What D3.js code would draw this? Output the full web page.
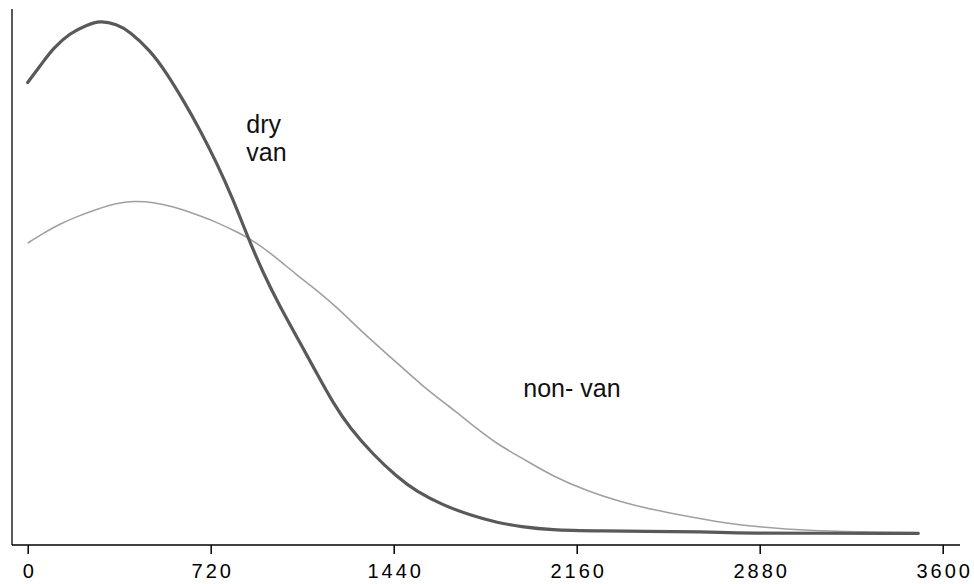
<!DOCTYPE html>
<html>
<head>
<meta charset="utf-8">
<script src="https://cdn.jsdelivr.net/npm/d3@7"></script>
<style>
  body { margin: 0; background: #fff; }
  svg { display: block; font-family: "Liberation Sans", Arial, sans-serif; }
</style>
</head>
<body>
<div id="chart"></div>
<script>
// values (x = time, y = relative height)
const dryVanX = [0, 61, 101, 166, 232, 284, 350, 402, 481, 547, 612, 678, 744, 809, 868, 927, 986, 1065, 1137, 1202, 1268, 1360, 1452, 1530, 1635, 1740, 1851, 1937, 2068, 2199, 2730, 2739, 3504];
const dryVanY = [86.7, 90.7, 93.3, 96.2, 97.7, 98.6, 97.9, 96.5, 92.9, 88.5, 83.3, 77.6, 71.2, 64.1, 56.7, 50.0, 44.2, 37.2, 30.8, 25.0, 20.2, 15.1, 10.9, 8.0, 5.4, 3.5, 2.0, 1.3, 0.6, 0.45, 0.3, 0, 0];

const nonVanX = [0, 61, 127, 193, 271, 350, 415, 494, 573, 652, 730, 809, 875, 966, 1058, 1137, 1229, 1320, 1425, 1556, 1661, 1740, 1851, 1937, 2068, 2199, 2330, 2461, 2593, 2737, 2881, 3078, 3261, 3504];
const nonVanY = [55.8, 57.7, 59.5, 60.9, 62.3, 63.5, 63.9, 63.7, 62.8, 61.5, 60.1, 58.3, 56.7, 53.5, 49.7, 46.8, 42.9, 38.5, 34.0, 28.2, 24.3, 21.2, 17.0, 14.7, 10.9, 8.2, 6.1, 4.5, 3.3, 2.0, 1.2, 0.5, 0.3, 0.1];

const xTicks = [0, 720, 1440, 2160, 2880, 3600];

const labels = [
  {lines: ["dry", "van"], x: 860, y: 77},
  {lines: ["non- van"], x: 1950, y: 26.2}
];

const width = 974, height = 584;
const axisLeft = 12, axisRight = 960, axisTop = 9, axisBottom = 545;

const x = d3.scaleLinear().domain([0, 3600]).range([27.7, 942.7]);
const y = d3.scaleLinear().domain([0, 100]).range([533.3, 13.3]);

const svg = d3.select("#chart").append("svg")
  .attr("width", width)
  .attr("height", height);

// y axis line (no ticks)
svg.append("line")
  .attr("x1", axisLeft).attr("x2", axisLeft)
  .attr("y1", axisTop).attr("y2", axisBottom)
  .attr("stroke", "#000").attr("stroke-width", 1.3);

// x axis
const xAxis = d3.axisBottom(x).tickValues(xTicks).tickSize(9).tickSizeOuter(0).tickFormat(d3.format("d"));
const gx = svg.append("g")
  .attr("transform", "translate(0," + axisBottom + ")")
  .call(xAxis);
gx.select(".domain").attr("d", "M" + axisLeft + ",0H" + axisRight)
  .attr("stroke", "#000").attr("stroke-width", 1.3);
gx.selectAll(".tick line").attr("stroke", "#000").attr("stroke-width", 1.5);
gx.selectAll(".tick text")
  .attr("y", 19)
  .attr("dy", "0.71em")
  .attr("dx", "1.5px")
  .style("font-family", "'Liberation Sans', Arial, sans-serif")
  .style("font-size", "20px")
  .style("letter-spacing", "3px")
  .attr("fill", "#000");

const line = d3.line()
  .x(d => x(d[0]))
  .y(d => y(d[1]))
  .curve(d3.curveBasis);

const nonVan = nonVanX.map((v, i) => [v, nonVanY[i]]);
const dryVan = dryVanX.map((v, i) => [v, dryVanY[i]]);

svg.append("path")
  .datum(nonVan)
  .attr("d", line)
  .attr("fill", "none")
  .attr("stroke", "#a0a0a0")
  .attr("stroke-width", 1.6);

svg.append("path")
  .datum(dryVan)
  .attr("d", line)
  .attr("fill", "none")
  .attr("stroke", "#595959")
  .attr("stroke-width", 3.2)
  .attr("stroke-linejoin", "round")
  .attr("stroke-linecap", "round");

// curve labels
labels.forEach(l => {
  const t = svg.append("text")
    .attr("x", x(l.x))
    .attr("y", y(l.y))
    .style("font-size", "25px")
    .attr("fill", "#111");
  l.lines.forEach((s, i) => {
    t.append("tspan")
      .attr("x", x(l.x))
      .attr("dy", i === 0 ? 0 : 28)
      .text(s);
  });
});
</script>
</body>
</html>
